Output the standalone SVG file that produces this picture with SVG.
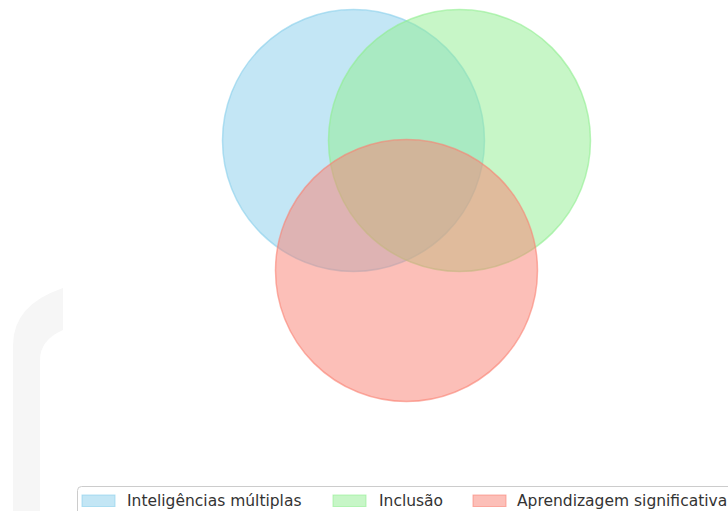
<svg xmlns="http://www.w3.org/2000/svg" width="728" height="511" viewBox="0 0 728 511">
<style>
.c{stroke-width:1.5}
.t{font-family:"DejaVu Sans",sans-serif;font-size:15.5px;fill:#333}
</style>
<rect width="728" height="511" fill="#fff"/>
<path d="M13,511 L13,345 Q13,305 63,288 L63,330 Q40,340 40,360 L40,511 Z" fill="#f6f6f6"/>
<g id="inteligencias"><circle class="c" cx="353.5" cy="140.5" r="131" fill="#87CEEB" fill-opacity="0.5" stroke="#87CEEB" stroke-opacity="0.6"/></g>
<g id="inclusao"><circle class="c" cx="459.5" cy="140.5" r="131" fill="#90EE90" fill-opacity="0.5" stroke="#90EE90" stroke-opacity="0.6"/></g>
<g id="aprendizagem"><circle class="c" cx="406.5" cy="270.5" r="131" fill="#FA8072" fill-opacity="0.5" stroke="#FA8072" stroke-opacity="0.6"/></g>
<g id="legend">
<rect x="77.5" y="486.5" width="680" height="40" rx="4" fill="#fff" fill-opacity="0.8" stroke="#ccc"/>
<rect x="82" y="495" width="33" height="11.5" fill="#87CEEB" fill-opacity="0.5" stroke="#87CEEB" stroke-opacity="0.6"/>
<text class="t" x="127" y="506">Inteligências múltiplas</text>
<rect x="333" y="495" width="33" height="11.5" fill="#90EE90" fill-opacity="0.5" stroke="#90EE90" stroke-opacity="0.6"/>
<text class="t" x="379" y="506">Inclusão</text>
<rect x="473" y="495" width="33" height="11.5" fill="#FA8072" fill-opacity="0.5" stroke="#FA8072" stroke-opacity="0.6"/>
<text class="t" x="517" y="506">Aprendizagem significativa</text>
</g>
</svg>
